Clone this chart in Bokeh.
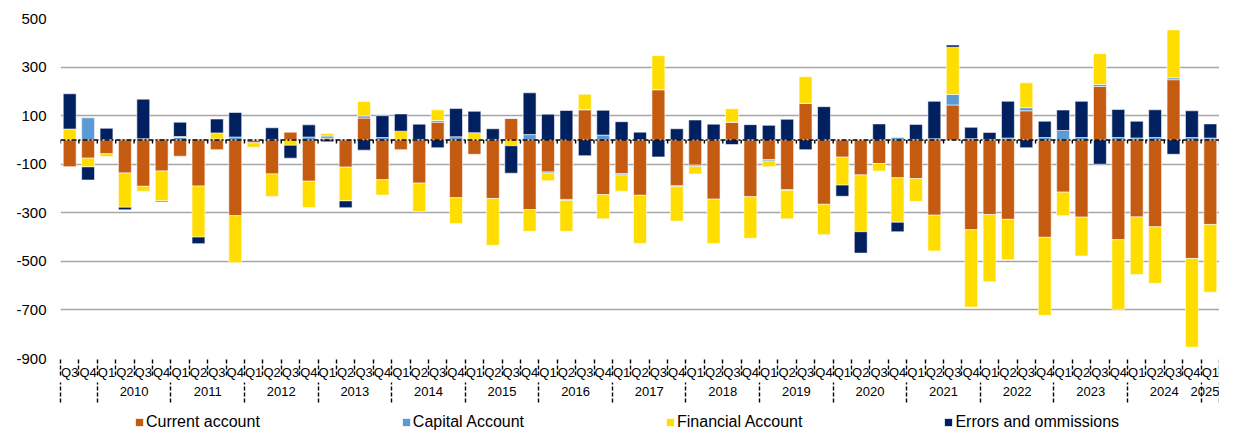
import numpy as np
from bokeh.plotting import figure
from bokeh.layouts import column
from bokeh.models import Range1d, LinearAxis, FixedTicker, Span, Legend, LegendItem
from bokeh.embed import file_html
from bokeh.resources import INLINE

# ---- tick labels / categories ----
year_labels = ["", "2010", "2011", "2012", "2013", "2014", "2015", "2016", "2017",
               "2018", "2019", "2020", "2021", "2022", "2023", "2024", "2025"]
year_quarters = [["Q3", "Q4"]] + [["Q1", "Q2", "Q3", "Q4"]] * 15 + [["Q1"]]
quarters = [q for qs in year_quarters for q in qs]
y_tick_values = [-900, -700, -500, -300, -100, 100, 300, 500]
y_tick_labels = ["-900", "-700", "-500", "-300", "-100", "100", "300", "500"]

# ---- series values ----
current = [-110, -75, -57, -136, -191, -128, -67, -190, -40, -312,
           -12, -140, 33, -170, 7, -112, 90, -164, -40, -178,
           73, -238, -59, -241, 89, -287, -132, -245, 124, -225,
           -139, -228, 207, -189, -104, -244, 73, -234, -81, -205,
           151, -265, -71, -144, -97, -156, -159, -310, 144, -370,
           -307, -327, 120, -401, -215, -318, 220, -411, -317, -358,
           248, -488, -348]
capital = [2, 91, 1, 3, 5, 4, 10, 4, 4, 12,
           0, 2, 0, 12, 9, 2, 9, 10, 2, 2,
           7, 13, 2, 2, 0, 22, -5, -4, 2, 20,
           -5, 1, 0, -4, -6, 1, 0, 1, -6, -3,
           0, 1, 1, 1, 1, 10, 2, 5, 43, 5,
           2, 8, 13, 10, 39, 10, 8, 10, 8, 10,
           8, 10, 8]
financial = [43, -36, -11, -141, -20, -123, 4, -210, 25, -194,
             -18, -93, -22, -108, 10, -139, 59, -63, 34, -118,
             44, -106, 28, -193, -24, -89, -31, -127, 62, -100,
             -67, -198, 140, -141, -30, -182, 55, -171, -23, -117,
             109, -125, -115, -234, -31, -183, -94, -147, 195, -318,
             -277, -166, 102, -321, -97, -160, 127, -287, -237, -232,
             197, -365, -279]
errors = [145, -54, 47, -11, 163, -4, 59, -27, 57, 101,
          0, 48, -53, 50, -8, -28, -42, 90, 71, 63,
          -32, 116, 88, 44, -113, 172, 106, 121, -65, 102,
          75, 31, -70, 46, 82, 64, -19, 62, 60, 85,
          -40, 136, -46, -88, 65, -39, 62, 154, 9, 47,
          29, 151, -32, 67, 84, 149, -100, 115, 69, 114,
          -59, 110, 58]

series_names = ["Current account", "Capital Account", "Financial Account", "Errors and ommissions"]
series_colors = ["#C55A11", "#5B9BD5", "#FFDD00", "#002060"]
series_values = [current, capital, financial, errors]

FONT = "Liberation Sans"
n = len(quarters)
xc = np.arange(n) + 0.5
bounds = list(range(n + 1))

p = figure(width=1219, height=410, x_range=Range1d(0, n), y_range=Range1d(-900, 500),
           output_backend="svg", toolbar_location=None,
           min_border_left=60, min_border_right=0, min_border_top=18, min_border_bottom=52)
p.outline_line_color = None
p.background_fill_color = "white"
p.border_fill_color = "white"

pos = np.zeros(n)
neg = np.zeros(n)
for name, vals, color in zip(series_names, series_values, series_colors):
    v = np.array(vals, dtype=float)
    bottom = np.where(v >= 0, pos, neg)
    top = bottom + v
    pos = np.where(v >= 0, top, pos)
    neg = np.where(v < 0, top, neg)
    p.vbar(x=xc, bottom=bottom, top=top, width=0.7, fill_color=color,
           line_color="white", line_alpha=0.7, line_width=0.8)

# zero line with small category ticks
p.add_layout(Span(location=0, dimension="width", line_color="black",
                  line_width=1.6, line_dash="5 2 2 2"))
p.segment(x0=bounds, y0=[0] * len(bounds), x1=bounds, y1=[-15] * len(bounds),
          line_color="black", line_width=1.4)

# y axis
p.yaxis.ticker = FixedTicker(ticks=y_tick_values)
p.yaxis.major_label_overrides = {v: s for v, s in zip(y_tick_values, y_tick_labels)}
p.yaxis.axis_line_color = None
p.yaxis.major_tick_line_color = None
p.yaxis.minor_tick_line_color = None
p.yaxis.major_tick_out = 0
p.yaxis.minor_tick_out = 0
p.yaxis.major_label_standoff = 14
p.yaxis.major_label_text_font = FONT
p.yaxis.major_label_text_font_size = "15px"
p.yaxis.major_label_text_color = "black"
p.ygrid.ticker = FixedTicker(ticks=y_tick_values)
p.ygrid.grid_line_color = "#A6A6A6"
p.ygrid.grid_line_width = 1.5
p.xgrid.grid_line_color = None

# quarter axis
qa = p.xaxis[0]
qa.ticker = FixedTicker(ticks=list(xc), minor_ticks=bounds)
qa.major_label_overrides = {float(x): q for x, q in zip(xc, quarters)}
qa.axis_line_color = None
qa.major_tick_line_color = None
qa.major_tick_out = 0
qa.major_tick_in = 0
qa.minor_tick_out = 17
qa.minor_tick_in = 0
qa.minor_tick_line_color = "black"
qa.minor_tick_line_width = 1.4
qa.minor_tick_line_dash = "4 2"
qa.major_label_standoff = -11
qa.major_label_text_font = FONT
qa.major_label_text_font_size = "13px"
qa.major_label_text_color = "black"

# year axis
year_bounds = [0]
for qs in year_quarters:
    year_bounds.append(year_bounds[-1] + len(qs))
year_centers = [(a + b) / 2 for a, b in zip(year_bounds[:-1], year_bounds[1:])]
ya = LinearAxis(ticker=FixedTicker(ticks=year_centers, minor_ticks=year_bounds))
ya.major_label_overrides = {float(c): y for c, y in zip(year_centers, year_labels)}
ya.axis_line_color = None
ya.major_tick_line_color = None
ya.major_tick_out = 0
ya.major_tick_in = 0
ya.minor_tick_out = 20
ya.minor_tick_in = 0
ya.minor_tick_line_color = "black"
ya.minor_tick_line_width = 1.4
ya.minor_tick_line_dash = "4 2"
ya.major_label_standoff = -16
ya.major_label_text_font = FONT
ya.major_label_text_font_size = "13px"
ya.major_label_text_color = "black"
p.add_layout(ya, "below")

# legend strip
lg = figure(width=1219, height=21, x_range=Range1d(0, 1), y_range=Range1d(0, 1),
            output_backend="svg", toolbar_location=None,
            x_axis_type=None, y_axis_type=None,
            min_border_left=0, min_border_right=0, min_border_top=0, min_border_bottom=0)
lg.outline_line_color = None
lg.xgrid.grid_line_color = None
lg.ygrid.grid_line_color = None
items = []
for name, color in zip(series_names, series_colors):
    r = lg.vbar(x=[-5], top=[0], width=0.1, fill_color=color, line_color="white", line_alpha=0.7)
    items.append(LegendItem(label=name, renderers=[r]))
legend = Legend(items=items, orientation="horizontal", location=(74, 0),
                spacing=141, glyph_width=10, glyph_height=10, label_standoff=2,
                padding=2, margin=0, label_height=17,
                border_line_color=None, background_fill_alpha=0,
                label_text_font=FONT, label_text_font_size="16px",
                label_text_color="black")
lg.add_layout(legend, "center")

layout = column(p, lg, spacing=0)
open("out.html", "w").write(file_html(layout, INLINE))
